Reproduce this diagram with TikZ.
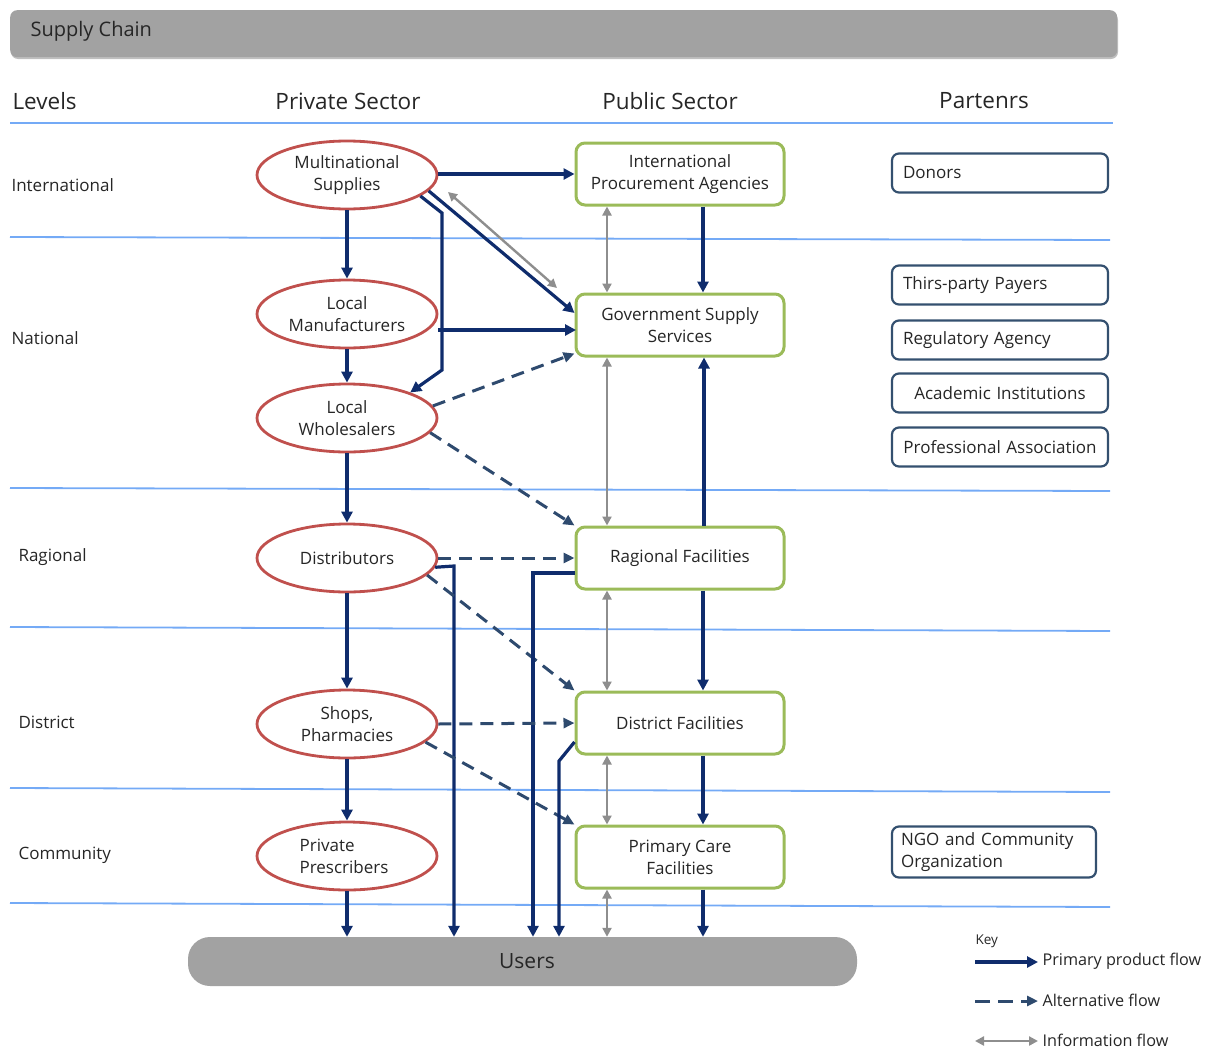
\documentclass[tikz,border=0pt]{standalone}
\usepackage{fontspec}
\setmainfont{Open Sans}
\usetikzlibrary{arrows.meta,shapes.geometric}
\definecolor{navy}{HTML}{0F2C6C}
\definecolor{altblue}{HTML}{2E4A6E}
\definecolor{infogray}{HTML}{8E8E8E}
\definecolor{redline}{HTML}{C0504D}
\definecolor{greenline}{HTML}{9BBB59}
\definecolor{partnerline}{HTML}{34506F}
\definecolor{rowline}{HTML}{74AAF6}
\definecolor{bargray}{HTML}{A2A2A2}
\definecolor{ink}{HTML}{262626}
\newcommand{\fs}[2]{\fontsize{#1}{#2}\selectfont}

\begin{document}
\begin{tikzpicture}[x=1pt,y=-1pt,
  every node/.style={text=ink},
  private/.style={ellipse, draw=redline, line width=2.8pt, fill=white,
    minimum width=180pt, minimum height=68pt, inner sep=0pt, align=center,
    font=\fs{17}{22}},
  public/.style={rectangle, rounded corners=9pt, draw=greenline, line width=3pt,
    fill=white, minimum width=208pt, minimum height=62pt, inner sep=0pt,
    align=center, font=\fs{17}{22}},
  partner/.style={rectangle, rounded corners=7pt, draw=partnerline, line width=2.2pt,
    fill=white, minimum width=216pt, minimum height=39pt, inner sep=0pt,
    text width=194pt, align=left, font=\fs{17}{22}},
  partnerc/.style={partner, text width=210pt, align=center},
  level/.style={anchor=west, font=\fs{17}{21}},
  heading/.style={font=\fs{22.5}{27}},
  bar/.style={rectangle, fill=bargray, inner sep=0pt},
  rowsep/.style={draw=rowline, line width=1.8pt},
  prim/.style={draw=navy, line width=3.2pt, -{Triangle[length=11pt,width=11pt]}},
  alt/.style={draw=altblue, line width=3pt, dash pattern=on 13pt off 8pt,
    -{Triangle[length=11pt,width=10pt]}},
  info/.style={draw=infogray, line width=2.4pt,
    {Triangle[length=9pt,width=9pt]}-{Triangle[length=9pt,width=9pt]}},
  keytext/.style={anchor=west, font=\fs{16.2}{19}}
]
\useasboundingbox (0,0) rectangle (1207,1052);

% title bar with a soft shadow
\fill[black!25, rounded corners=7pt] (11,13) rectangle (1118,59);
\node[bar, rounded corners=7pt, minimum width=1107pt, minimum height=47pt,
  anchor=north west] (titlebar) at (10,10) {};
\node[anchor=west, font=\fs{20}{24}] (title) at (27,31) {Supply Chain};

% column headings
\node[anchor=west, heading] (hlevels) at (9,101) {Levels};
\node[heading] (hprivate) at (348,101) {Private Sector};
\node[heading] (hpublic) at (670,101) {Public Sector};
\node[heading] (hpartners) at (984,101) {Partenrs};

% row separators
\draw[rowsep] (10,123) -- (1113,123);
\draw[rowsep] (10,237) -- (1110,240);
\draw[rowsep] (10,488) -- (1110,491);
\draw[rowsep] (10,627) -- (1110,631);
\draw[rowsep] (10,788) -- (1110,792);
\draw[rowsep] (10,903) -- (1110,907);

% level labels
\node[level] (lint) at (8,185) {International};
\node[level] (lnat) at (8,338) {National};
\node[level] (lreg) at (15,557) {Ragional};
\node[level] (ldis) at (15,722) {District};
\node[level] (lcom) at (15,855) {Community};

% private sector
\node[private] (multi) at (347,175) {Multinational\\Supplies};
\node[private] (lman) at (347,314) {Local\\Manufacturers};
\node[private] (lwh) at (347,418) {Local\\Wholesalers};
\node[private] (dist) at (347,558) {Distributors};
\node[private] (shops) at (347,724) {Shops,\\Pharmacies};
\node[private, align=left] (presc) at (347,856) {Private\\Prescribers\hspace*{6pt}};

% public sector
\node[public] (ipa) at (680,174) {International\\Procurement Agencies};
\node[public] (gss) at (680,325) {Government Supply\\Services};
\node[public] (reg) at (680,558) {Ragional Facilities};
\node[public] (dfac) at (680,723) {District Facilities};
\node[public] (pcf) at (680,857) {Primary Care\\Facilities};

% partners
\node[partner] (donors) at (1000,173) {Donors};
\node[partner] (payers) at (1000,285) {Thirs-party Payers};
\node[partner] (regag) at (1000,340) {Regulatory Agency};
\node[partnerc] (acad) at (1000,393) {Academic Institutions};
\node[partnerc] (prof) at (1000,447) {Professional Association};
\node[partner, minimum width=204pt, minimum height=51pt, text width=186pt]
  (ngo) at (994,852) {NGO and Community\\Organization};

% users bar
\node[bar, rounded corners=22pt, minimum width=669pt, minimum height=49pt,
  font=\fs{21}{25}] (users) at (522.5,961.5) {\hspace*{9pt}Users};

% routing points
\coordinate (bendA) at (442,213);
\coordinate (bendB) at (442,370);
\coordinate (gA) at (448,192);
\coordinate (gB) at (557,288);
\coordinate (distx) at (454,566);
\coordinate (regx) at (533,573);
\coordinate (dfx) at (559,761);
\coordinate (gssin) at (576,330);

% private sector chain
\draw[prim] (multi) -- (lman);
\draw[prim] (lman) -- (lwh);
\draw[prim] (lwh) -- (dist);
\draw[prim] (dist) -- (shops);
\draw[prim] (shops) -- (presc);
\draw[prim] (presc.south) -- (presc.south |- users.north);

% international / national flows
\draw[prim] (multi.east |- ipa.west) -- (ipa.west);
\draw[prim] (multi.-11) -- ([yshift=12pt]gss.west);
\draw[info] (gA) -- (gB);
\draw[prim] (multi.-16) -- (bendA) -- (bendB) -- (lwh.22);
\draw[prim] (lman.east |- gssin) -- (gssin);
\draw[alt] (lwh.8) -- ([yshift=4pt]gss.south west);
\draw[alt] (lwh.-10) -- (reg.north west);
\draw[prim] ([xshift=23pt]ipa.south) -- ([xshift=23pt]gss.north);
\draw[info] ([xshift=-73pt]ipa.south) -- ([xshift=-73pt]gss.north);
\draw[info] ([xshift=-73pt]gss.south) -- ([xshift=-73pt]reg.north);
\draw[prim] ([xshift=24pt]reg.north) -- ([xshift=24pt]gss.south);

% regional / district / community flows
\draw[alt] (dist.east) -- (reg.west);
\draw[prim] (dist.-6) -- (distx) -- (distx |- users.north);
\draw[alt] (dist.-12) -- (dfac.north west);
\draw[prim] ([yshift=-15pt]reg.west) -- (regx) -- (regx |- users.north);
\draw[info] ([xshift=-73pt]reg.south) -- ([xshift=-73pt]dfac.north);
\draw[prim] ([xshift=23pt]reg.south) -- ([xshift=23pt]dfac.north);
\draw[alt] (shops.east) -- (dfac.west);
\draw[alt] (shops.-13) -- (pcf.north west);
\draw[prim] ([yshift=-19pt]dfac.west) -- (dfx) -- (dfx |- users.north);
\draw[info] ([xshift=-73pt]dfac.south) -- ([xshift=-73pt]pcf.north);
\draw[prim] ([xshift=23pt]dfac.south) -- ([xshift=23pt]pcf.north);
\draw[info] ([xshift=-73pt]pcf.south) -- ([xshift=-73pt]pcf.south |- users.north);
\draw[prim] ([xshift=23pt]pcf.south) -- ([xshift=23pt]pcf.south |- users.north);

% key
\node[anchor=west, font=\fs{13.5}{16}] (keyhead) at (972,941) {Key};
\coordinate (k1a) at (975,962);
\coordinate (k1b) at (1038,962);
\coordinate (k2a) at (975,1001);
\coordinate (k2b) at (1038,1001);
\coordinate (k3a) at (975,1041);
\coordinate (k3b) at (1038,1041);
\draw[prim] (k1a) -- (k1b);
\draw[alt, dash pattern=on 15pt off 8pt] (k2a) -- (k2b);
\draw[info] (k3a) -- (k3b);
\node[keytext] (key1) at (1039,961) {Primary product flow};
\node[keytext] (key2) at (1039,1000) {Alternative flow};
\node[keytext] (key3) at (1039,1040) {Information flow};
\end{tikzpicture}
\end{document}
